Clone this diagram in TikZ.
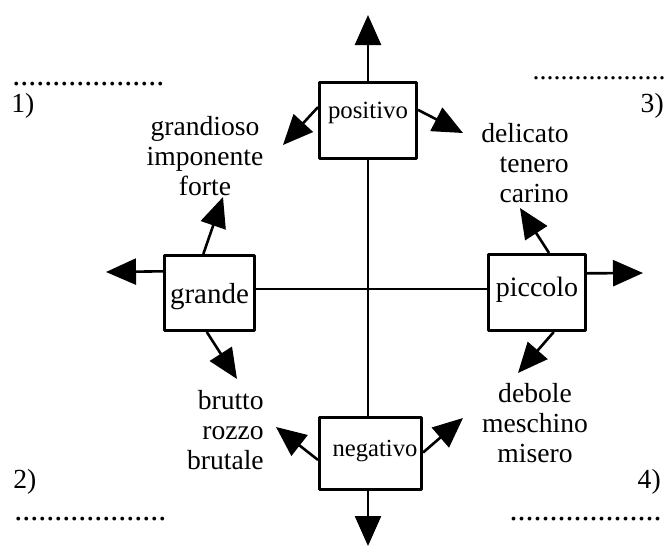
\documentclass[tikz,border=0pt]{standalone}
\usepackage{fontspec}
\setmainfont{Liberation Serif}
\usetikzlibrary{arrows.meta}

\begin{document}
\begin{tikzpicture}[x=0.5pt,y=-0.5pt,line join=round,line width=1.3pt,
	>={Triangle[length=15pt,width=13pt]},
	font=\fontsize{13.8}{15}\selectfont,
	box/.style={draw,inner sep=0pt},
	lab/.style={inner sep=0pt,align=#1},
	num/.style={inner sep=0pt},
	dots/.style={inner sep=0pt,font=\fontsize{#1}{#1}\selectfont}]
	
	\def\dotrow{...................}
	\useasboundingbox (0,0) rectangle (666,547);
	
	% i quattro riquadri
	\node[box,minimum width=48.7pt,minimum height=38.2pt,label={[yshift=3.75pt,font=\fontsize{12.4}{15}\selectfont]center:positivo}] (pos) at (368,120.5) {};
	\node[box,minimum width=45.2pt,minimum height=37.7pt,label={[yshift=-1.75pt,font=\fontsize{14.5}{15}\selectfont]center:grande}] (gra) at (209.5,293) {};
	\node[box,minimum width=48.7pt,minimum height=38.2pt,label={[yshift=1.25pt,font=\fontsize{14}{15}\selectfont]center:piccolo}] (pic) at (537,292.5) {};
	\node[box,minimum width=51.2pt,minimum height=36.2pt,label={[xshift=2.25pt,yshift=1.25pt,font=\fontsize{12.3}{15}\selectfont]center:negativo}] (neg) at (370.5,453.5) {};
	
	\coordinate (ctr) at (368,289);
	\draw (gra.east |- ctr) -- (pic.west |- ctr); % asse orizzontale
	\draw (pos.south -| ctr) -- (neg.north -| ctr); % asse verticale
	
	% punte delle frecce
	\coordinate (pos-n) at (368,15);
	\coordinate (pos-w) at (283,145);
	\coordinate (pos-e) at (463,133);
	\coordinate (gra-n) at (223,197);
	\coordinate (gra-w) at (106,272);
	\coordinate (gra-s) at (237,379);
	\coordinate (pic-n) at (520,208);
	\coordinate (pic-e) at (643,273);
	\coordinate (pic-s) at (518,373);
	\coordinate (neg-w) at (276,427);
	\coordinate (neg-e) at (463,418);
	\coordinate (neg-s) at (368,546);
	
	\draw[->] (pos.north -| ctr) -- (pos-n);
	\draw[->] (pos.165.5) -- (pos-w);
	\draw[->] (pos.12) -- (pos-e);
	\draw[->] (gra.99.7) -- (gra-n);
	\draw[->] (gra.155.7) -- (gra-w);
	\draw[->] (gra.266.6) -- (gra-s);
	\draw[->] (pic.73.5) -- (pic-n);
	\draw[->] (pic.21) -- (pic-e);
	\draw[->] (pic.293) -- (pic-s);
	\draw[->] (neg.187) -- (neg-w);
	\draw[->] (neg.1) -- (neg-e);
	\draw[->] (neg.south -| ctr) -- (neg-s);
	
	% aggettivi
	\node[lab=center,anchor=north] (gr-adj) at (205,115.5) {grandioso\\imponente\\forte};
	\node[lab=right,anchor=north east] (pi-adj) at (570,122.5) {delicato\\tenero\\carino};
	\node[lab=right,anchor=north east] (br-adj) at (265,389.5) {brutto\\rozzo\\brutale};
	\node[lab=center,anchor=north] (de-adj) at (535,382) {debole\\meschino\\misero};
	
	% quadranti
	\node[num,anchor=base west] (q1) at (10,112) {1)};
	\node[num,anchor=base east] (q3) at (665,112) {3)};
	\node[num,anchor=base west] (q2) at (12,488) {2)};
	\node[num,anchor=base east] (q4) at (662,488) {4)};
	\node[dots=16,anchor=base west] (d1) at (11,85) {\dotrow};
	\node[dots=14,anchor=base east] (d3) at (667,79) {\dotrow};
	\node[dots=16,anchor=base west] (d2) at (13,520) {\dotrow};
	\node[dots=16,anchor=base east] (d4) at (663,520) {\dotrow};
\end{tikzpicture}
\end{document}
